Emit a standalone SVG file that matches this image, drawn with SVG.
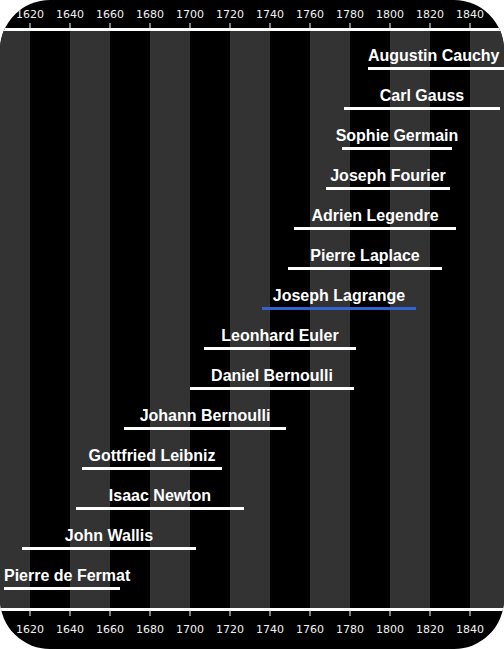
<svg xmlns="http://www.w3.org/2000/svg" width="504" height="649" viewBox="0 0 504 649">
<defs>
<clipPath id="clip"><rect x="0" y="0" width="504" height="649" rx="50" ry="50"/></clipPath>
<style>
.stripe{fill:#333333}
.axis{fill:#ffffff}
.tick{fill:#ffffff}
.yr{font-family:"DejaVu Sans",sans-serif;font-size:11px;fill:#f0f0f0;text-anchor:middle}
.bar{fill:#ffffff}
.bar.hl{fill:#3163d0}
.name{font-family:"Liberation Sans",Arial,sans-serif;font-weight:bold;font-size:16px;fill:#ffffff;text-anchor:middle}
</style>
</defs>
<rect x="0" y="0" width="504" height="649" fill="#ffffff"/>
<g clip-path="url(#clip)">
<rect x="0" y="0" width="504" height="649" fill="#000000"/>
<g id="stripes">
<rect class="stripe" x="0" y="31" width="30" height="577"/>
<rect class="stripe" x="70" y="31" width="40" height="577"/>
<rect class="stripe" x="150" y="31" width="40" height="577"/>
<rect class="stripe" x="230" y="31" width="40" height="577"/>
<rect class="stripe" x="310" y="31" width="40" height="577"/>
<rect class="stripe" x="390" y="31" width="40" height="577"/>
<rect class="stripe" x="470" y="31" width="40" height="577"/>
</g>
<g id="axis-top">
<rect class="axis" x="0" y="28" width="504" height="3"/>
<rect class="tick" x="29.5" y="23" width="1" height="5"/>
<rect class="tick" x="69.5" y="23" width="1" height="5"/>
<rect class="tick" x="109.5" y="23" width="1" height="5"/>
<rect class="tick" x="149.5" y="23" width="1" height="5"/>
<rect class="tick" x="189.5" y="23" width="1" height="5"/>
<rect class="tick" x="229.5" y="23" width="1" height="5"/>
<rect class="tick" x="269.5" y="23" width="1" height="5"/>
<rect class="tick" x="309.5" y="23" width="1" height="5"/>
<rect class="tick" x="349.5" y="23" width="1" height="5"/>
<rect class="tick" x="389.5" y="23" width="1" height="5"/>
<rect class="tick" x="429.5" y="23" width="1" height="5"/>
<rect class="tick" x="469.5" y="23" width="1" height="5"/>
<text class="yr" x="30" y="18">1620</text>
<text class="yr" x="70" y="18">1640</text>
<text class="yr" x="110" y="18">1660</text>
<text class="yr" x="150" y="18">1680</text>
<text class="yr" x="190" y="18">1700</text>
<text class="yr" x="230" y="18">1720</text>
<text class="yr" x="270" y="18">1740</text>
<text class="yr" x="310" y="18">1760</text>
<text class="yr" x="350" y="18">1780</text>
<text class="yr" x="390" y="18">1800</text>
<text class="yr" x="430" y="18">1820</text>
<text class="yr" x="470" y="18">1840</text>
</g>
<g id="axis-bottom">
<rect class="axis" x="0" y="608" width="504" height="3"/>
<rect class="tick" x="29.5" y="611" width="1" height="5"/>
<rect class="tick" x="69.5" y="611" width="1" height="5"/>
<rect class="tick" x="109.5" y="611" width="1" height="5"/>
<rect class="tick" x="149.5" y="611" width="1" height="5"/>
<rect class="tick" x="189.5" y="611" width="1" height="5"/>
<rect class="tick" x="229.5" y="611" width="1" height="5"/>
<rect class="tick" x="269.5" y="611" width="1" height="5"/>
<rect class="tick" x="309.5" y="611" width="1" height="5"/>
<rect class="tick" x="349.5" y="611" width="1" height="5"/>
<rect class="tick" x="389.5" y="611" width="1" height="5"/>
<rect class="tick" x="429.5" y="611" width="1" height="5"/>
<rect class="tick" x="469.5" y="611" width="1" height="5"/>
<text class="yr" x="30" y="633">1620</text>
<text class="yr" x="70" y="633">1640</text>
<text class="yr" x="110" y="633">1660</text>
<text class="yr" x="150" y="633">1680</text>
<text class="yr" x="190" y="633">1700</text>
<text class="yr" x="230" y="633">1720</text>
<text class="yr" x="270" y="633">1740</text>
<text class="yr" x="310" y="633">1760</text>
<text class="yr" x="350" y="633">1780</text>
<text class="yr" x="390" y="633">1800</text>
<text class="yr" x="430" y="633">1820</text>
<text class="yr" x="470" y="633">1840</text>
</g>
<g id="cauchy"><rect class="bar" x="368" y="67" width="136" height="3"/><text class="name" x="499.5" y="61" style="text-anchor:end">Augustin Cauchy</text></g>
<g id="gauss"><rect class="bar" x="344" y="107" width="156" height="3"/><text class="name" x="422" y="101">Carl Gauss</text></g>
<g id="germain"><rect class="bar" x="342" y="147" width="110" height="3"/><text class="name" x="397" y="141">Sophie Germain</text></g>
<g id="fourier"><rect class="bar" x="326" y="187" width="124" height="3"/><text class="name" x="388" y="181">Joseph Fourier</text></g>
<g id="legendre"><rect class="bar" x="294" y="227" width="162" height="3"/><text class="name" x="375" y="221">Adrien Legendre</text></g>
<g id="laplace"><rect class="bar" x="288" y="267" width="154" height="3"/><text class="name" x="365" y="261">Pierre Laplace</text></g>
<g id="lagrange"><rect class="bar hl" x="262" y="307" width="154" height="3"/><text class="name" x="339" y="301">Joseph Lagrange</text></g>
<g id="euler"><rect class="bar" x="204" y="347" width="152" height="3"/><text class="name" x="280" y="341">Leonhard Euler</text></g>
<g id="d-bernoulli"><rect class="bar" x="190" y="387" width="164" height="3"/><text class="name" x="272" y="381">Daniel Bernoulli</text></g>
<g id="j-bernoulli"><rect class="bar" x="124" y="427" width="162" height="3"/><text class="name" x="205" y="421">Johann Bernoulli</text></g>
<g id="leibniz"><rect class="bar" x="82" y="467" width="140" height="3"/><text class="name" x="152" y="461">Gottfried Leibniz</text></g>
<g id="newton"><rect class="bar" x="76" y="507" width="168" height="3"/><text class="name" x="160" y="501">Isaac Newton</text></g>
<g id="wallis"><rect class="bar" x="22" y="547" width="174" height="3"/><text class="name" x="109" y="541">John Wallis</text></g>
<g id="fermat"><rect class="bar" x="4" y="587" width="116" height="3"/><text class="name" x="4" y="581" style="text-anchor:start">Pierre de Fermat</text></g>
<g id="connectors"/>
</g>
</svg>
